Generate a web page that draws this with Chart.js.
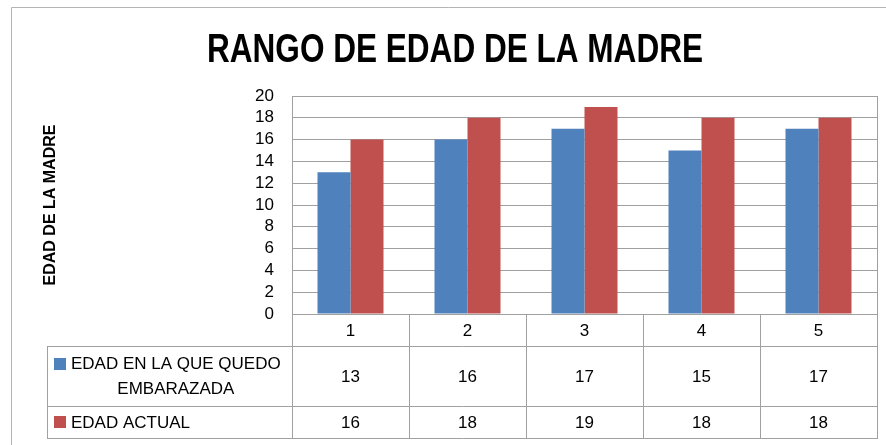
<!DOCTYPE html>
<html>
<head>
<meta charset="utf-8">
<script src="https://cdn.jsdelivr.net/npm/chart.js@4.4.1/dist/chart.umd.min.js"></script>
<style>
    html, body { margin: 0; padding: 0; background: #fff; }
    #wrap { position: relative; width: 886px; height: 445px; }
</style>
</head>
<body>
<div id="wrap"><canvas id="edadChart" width="886" height="445"></canvas></div>
<script>
const chartTitle = 'RANGO DE EDAD DE LA MADRE';
const yAxisTitle = 'EDAD DE LA MADRE';
const categories = ['1', '2', '3', '4', '5'];
const edadEmbarazo = [13, 16, 17, 15, 17];
const edadActual = [16, 18, 19, 18, 18];
const seriesLabels = [['EDAD EN LA QUE QUEDO', 'EMBARAZADA'], ['EDAD ACTUAL']];
const yTickValues = [0, 2, 4, 6, 8, 10, 12, 14, 16, 18, 20];

const BLUE = '#4f81bd';
const RED = '#c0504d';
const LINE = '#a0a0a0';
const FONT = '"Liberation Sans", Arial, sans-serif';

// Draws the outer frame and the title
const framePlugin = {
    id: 'frame',
    beforeDraw(chart) {
        const ctx = chart.ctx;
        ctx.save();
        ctx.strokeStyle = '#b4b4b4';
        ctx.lineWidth = 1;
        ctx.beginPath();
        ctx.moveTo(11.5, 445);
        ctx.lineTo(11.5, 7.5);
        ctx.lineTo(886, 7.5);
        ctx.stroke();

        // title, squeezed to the reference's narrow face
        ctx.font = 'bold 41px "Liberation Sans Narrow", ' + FONT;
        ctx.fillStyle = '#000';
        ctx.textAlign = 'center';
        ctx.textBaseline = 'alphabetic';
        const w = ctx.measureText(chartTitle).width;
        const sx = Math.min(1, 496 / w);
        ctx.translate(455, 62);
        ctx.scale(sx, 1);
        ctx.fillText(chartTitle, 0, 0);
        ctx.restore();
    }
};

// Data table under the plot, columns taken from the x scale
const tablePlugin = {
    id: 'dataTable',
    afterDraw(chart) {
        const { ctx, chartArea: area, scales: { x } } = chart;
        const rowHeights = [32, 60, 32];
        const tableLeft = 47;
        const top = area.bottom;
        const r1 = top + rowHeights[0];
        const r2 = r1 + rowHeights[1];
        const bottom = r2 + rowHeights[2];

        const edges = [area.left];
        for (let i = 0; i < categories.length - 1; i++) {
            edges.push((x.getPixelForValue(i) + x.getPixelForValue(i + 1)) / 2);
        }
        edges.push(area.right);
        const px = v => Math.round(v) + 0.5;

        ctx.save();
        ctx.strokeStyle = LINE;
        ctx.lineWidth = 1;
        ctx.beginPath();
        // right border of plot
        ctx.moveTo(px(area.right), area.top);
        ctx.lineTo(px(area.right), top);
        // verticals
        edges.forEach(e => {
            ctx.moveTo(px(e), top);
            ctx.lineTo(px(e), bottom);
        });
        ctx.moveTo(px(tableLeft), r1);
        ctx.lineTo(px(tableLeft), bottom);
        // horizontals
        ctx.moveTo(area.left, px(top));
        ctx.lineTo(area.right, px(top));
        [r1, r2, bottom].forEach(y => {
            ctx.moveTo(tableLeft, px(y));
            ctx.lineTo(area.right + 1, px(y));
        });
        ctx.stroke();

        ctx.fillStyle = '#000';
        ctx.font = '17px ' + FONT;
        ctx.textBaseline = 'middle';
        ctx.textAlign = 'center';
        const series = [edadEmbarazo, edadActual];
        const rowMid = [(r1 + r2) / 2, (r2 + bottom) / 2];
        categories.forEach((c, i) => {
            const cx = x.getPixelForValue(i);
            ctx.fillText(c, cx, (top + r1) / 2 + 1);
            series.forEach((s, k) => ctx.fillText(String(s[i]), cx, rowMid[k] + 1));
        });

        // series labels with colour keys
        const colors = [BLUE, RED];
        seriesLabels.forEach((lines, k) => {
            const lh = 25;
            const y0 = rowMid[k] - (lines.length - 1) * lh / 2;
            ctx.fillStyle = colors[k];
            ctx.fillRect(54, Math.round(y0) - 6, 12, 12);
            ctx.fillStyle = '#000';
            const w0 = ctx.measureText(lines[0]).width;
            ctx.textAlign = 'left';
            ctx.fillText(lines[0], 71, y0 + 1);
            ctx.textAlign = 'center';
            for (let j = 1; j < lines.length; j++) {
                ctx.fillText(lines[j], 71 + w0 / 2, y0 + j * lh + 1);
            }
        });
        ctx.restore();
    }
};

const ctx = document.getElementById('edadChart').getContext('2d');
new Chart(ctx, {
    type: 'bar',
    data: {
        labels: categories,
        datasets: [
            {
                label: seriesLabels[0].join(' '),
                data: edadEmbarazo,
                backgroundColor: BLUE,
                borderWidth: 0
            },
            {
                label: seriesLabels[1].join(' '),
                data: edadActual,
                backgroundColor: RED,
                borderWidth: 0
            }
        ]
    },
    options: {
        responsive: false,
        animation: false,
        events: [],
        layout: {
            padding: { top: 96, left: 41, right: 9, bottom: 0 }
        },
        datasets: {
            bar: {
                categoryPercentage: 0.564,
                barPercentage: 1
            }
        },
        plugins: {
            legend: { display: false },
            title: { display: false },
            tooltip: { enabled: false }
        },
        scales: {
            x: {
                ticks: { display: false },
                grid: { display: false },
                border: { display: false },
                afterFit(scale) {
                    scale.height = 131;
                }
            },
            y: {
                min: 0,
                max: 20,
                afterBuildTicks(scale) {
                    scale.ticks = yTickValues.map(v => ({ value: v }));
                },
                ticks: {
                    autoSkip: false,
                    padding: 18,
                    color: '#000',
                    font: { family: FONT, size: 17 }
                },
                grid: {
                    color: LINE,
                    drawTicks: false
                },
                border: { display: true, color: LINE },
                title: {
                    display: true,
                    text: yAxisTitle,
                    color: '#000',
                    padding: 0,
                    font: { family: FONT, size: 16, weight: 'bold' }
                },
                afterFit(scale) {
                    scale.width = 292 - 41;
                }
            }
        }
    },
    plugins: [framePlugin, tablePlugin]
});
</script>
</body>
</html>
